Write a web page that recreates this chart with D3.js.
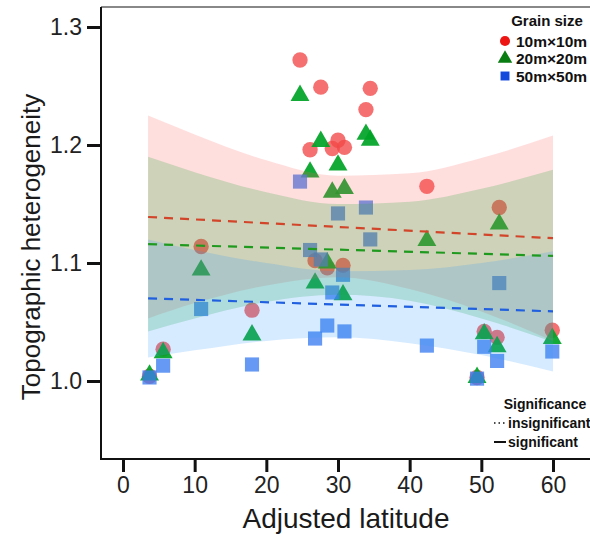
<!DOCTYPE html>
<html><head><meta charset="utf-8">
<script src="https://cdn.jsdelivr.net/npm/d3@7"></script>
<style>body{margin:0;background:#fff}svg{display:block}text{font-family:Arial,"Liberation Sans",sans-serif}</style>
</head><body><svg id="c" width="590" height="535"></svg>
<script>
// ---- data ----
const latitude = [3.7, 5.6, 10.9, 18.0, 24.7, 26.1, 26.8, 27.6, 28.5, 29.2, 30.0, 30.7, 30.9, 33.9, 34.5, 42.4, 49.4, 50.4, 52.2, 52.5, 59.9];
const grain10 = [1.004, 1.027, 1.114, 1.060, 1.272, 1.196, 1.102, 1.249, 1.096, 1.197, 1.204, 1.098, 1.198, 1.230, 1.248, 1.165, 1.003, 1.042, 1.037, 1.147, 1.043];
const grain20 = [1.005, 1.024, 1.094, 1.039, 1.242, 1.177, 1.083, 1.203, 1.100, 1.160, 1.183, 1.073, 1.163, 1.209, 1.204, 1.119, 1.003, 1.040, 1.029, 1.133, 1.036];
const grain50 = [1.003, 1.013, 1.061, 1.014, 1.169, 1.111, 1.036, 1.103, 1.047, 1.075, 1.142, 1.090, 1.042, 1.147, 1.120, 1.030, 1.002, 1.029, 1.017, 1.083, 1.025];

const fitLat = [3.5, 60];
const fit10 = [1.139, 1.121];
const fit20 = [1.116, 1.106];
const fit50 = [1.070, 1.059];

const bandLat = [3.5, 10, 20, 30, 40, 50, 60];
const upper10 = [1.225, 1.209, 1.187, 1.174, 1.176, 1.189, 1.208];
const lower10 = [1.053, 1.066, 1.081, 1.088, 1.078, 1.059, 1.034];
const upper20 = [1.190, 1.177, 1.160, 1.150, 1.152, 1.163, 1.179];
const lower20 = [1.042, 1.053, 1.067, 1.073, 1.068, 1.053, 1.033];
const upper50 = [1.120, 1.111, 1.100, 1.093, 1.094, 1.100, 1.110];
const lower50 = [1.020, 1.026, 1.034, 1.037, 1.032, 1.022, 1.008];

const xTicks = [0, 10, 20, 30, 40, 50, 60];
const yTicks = [1.0, 1.1, 1.2, 1.3];
const grainLabels = ["10m×10m", "20m×20m", "50m×50m"];
const sigLabels = ["insignificant", "significant"];

// ---- drawing ----
const svg = d3.select("#c");
const L = 101, R = 590, T = 7, B = 459;
const x = d3.scaleLinear().domain([0, 60]).range([123, 553]);
const y = d3.scaleLinear().domain([1.0, 1.3]).range([381, 27]);

const series = [
  {vals: grain10, sym: d3.symbolCircle, size: 185, fill: "#f24848", op: 0.78, up: upper10, lo: lower10, fit: fit10, band: "#ff5a5a", bop: 0.2, line: "#d2452a", leg: "#ee1515"},
  {vals: grain20, sym: d3.symbolTriangle, size: 155, fill: "#00a326", op: 0.92, up: upper20, lo: lower20, fit: fit20, band: "#22aa33", bop: 0.22, line: "#1f9a1f", leg: "#0a7d12"},
  {vals: grain50, sym: d3.symbolSquare, size: 200, fill: "#3b7cf0", op: 0.78, up: upper50, lo: lower50, fit: fit50, band: "#3399ff", bop: 0.2, line: "#1f5fe0", leg: "#1448dd"}
];

// points (under the ribbons)
series.forEach(s => {
  svg.append("g").selectAll("path").data(latitude.map((l, i) => [l, s.vals[i]])).join("path")
    .attr("d", d3.symbol(s.sym, s.size))
    .attr("transform", d => `translate(${x(d[0])},${y(d[1])})`)
    .attr("fill", s.fill).attr("fill-opacity", s.op);
});

// ribbons
series.forEach(s => {
  const area = d3.area().x(d => x(d[0])).y0(d => y(d[2])).y1(d => y(d[1])).curve(d3.curveMonotoneX);
  svg.append("path").datum(bandLat.map((l, i) => [l, s.up[i], s.lo[i]]))
    .attr("d", area).attr("fill", s.band).attr("fill-opacity", s.bop);
});

// fitted lines
series.forEach(s => {
  const line = d3.line().x(d => x(d[0])).y(d => y(d[1]));
  svg.append("path").datum(fitLat.map((l, i) => [l, s.fit[i]]))
    .attr("d", line).attr("fill", "none").attr("stroke", s.line)
    .attr("stroke-width", 2.2).attr("stroke-dasharray", "9,7");
});

// frame
svg.append("line").attr("x1", L).attr("x2", R).attr("y1", T).attr("y2", T).attr("stroke", "#888").attr("stroke-width", 2);

// axes
const gx = svg.append("g").attr("transform", `translate(0,${B})`)
  .call(d3.axisBottom(x).tickValues(xTicks).tickSize(13).tickPadding(5).tickSizeOuter(0));
gx.select(".domain").remove();
gx.selectAll(".tick line").attr("stroke", "#111").attr("stroke-width", 3);
gx.selectAll(".tick text").attr("font-size", 23).attr("fill", "#222").attr("font-family", "Arial, 'Liberation Sans', sans-serif");
svg.append("line").attr("x1", L - 1).attr("x2", R).attr("y1", B).attr("y2", B).attr("stroke", "#111").attr("stroke-width", 2);

const gy = svg.append("g").attr("transform", `translate(${L},0)`)
  .call(d3.axisLeft(y).tickValues(yTicks).tickFormat(d3.format(".1f")).tickSize(14).tickPadding(5).tickSizeOuter(0));
gy.select(".domain").remove();
gy.selectAll(".tick line").attr("stroke", "#111").attr("stroke-width", 3);
gy.selectAll(".tick text").attr("font-size", 23).attr("fill", "#222").attr("font-family", "Arial, 'Liberation Sans', sans-serif");
svg.append("line").attr("x1", L).attr("x2", L).attr("y1", T).attr("y2", B).attr("stroke", "#111").attr("stroke-width", 2);

// titles
svg.append("text").attr("x", 346).attr("y", 528).attr("text-anchor", "middle")
  .attr("font-size", 28).attr("fill", "#1a1a1a").text("Adjusted latitude");
svg.append("text").attr("transform", "translate(40,247) rotate(-90)").attr("text-anchor", "middle")
  .attr("font-size", 26).attr("fill", "#1a1a1a").text("Topographic heterogeneity");

// legend: grain size
svg.append("text").attr("x", 547).attr("y", 26).attr("text-anchor", "middle")
  .attr("font-size", 15).attr("font-weight", "bold").attr("fill", "#111").text("Grain size");
grainLabels.forEach((t, i) => {
  const yy = 41 + i * 17.5;
  svg.append("path").attr("d", d3.symbol(series[i].sym, i === 1 ? 90 : 80)())
    .attr("transform", `translate(505,${yy})`).attr("fill", series[i].leg);
  svg.append("text").attr("x", 516).attr("y", yy + 5.5).attr("font-size", 15.5)
    .attr("font-weight", "bold").attr("fill", "#111").text(t);
});

// legend: significance
svg.append("text").attr("x", 545).attr("y", 409).attr("text-anchor", "middle")
  .attr("font-size", 14).attr("font-weight", "bold").attr("fill", "#111").text("Significance");
sigLabels.forEach((t, i) => {
  const yy = 423 + i * 19;
  svg.append("line").attr("x1", 494).attr("x2", 506).attr("y1", yy).attr("y2", yy)
    .attr("stroke", "#111").attr("stroke-width", i === 0 ? 1.5 : 2)
    .attr("stroke-dasharray", i === 0 ? "1.5,3" : null);
  svg.append("text").attr("x", 508).attr("y", yy + 5).attr("font-size", 14)
    .attr("font-weight", "bold").attr("fill", "#111").text(t);
});
</script></body></html>
